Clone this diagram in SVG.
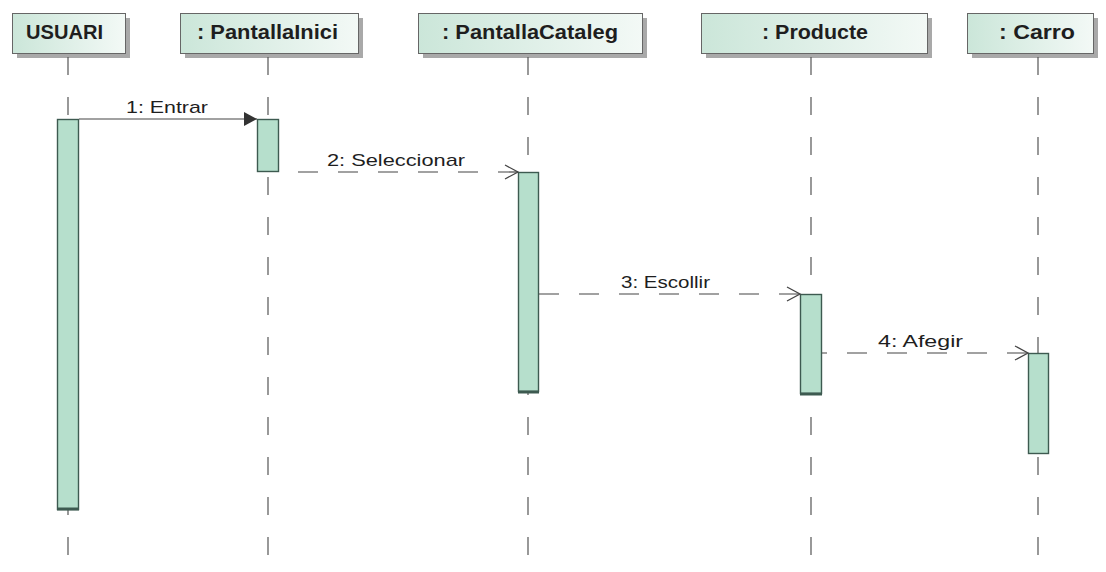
<svg xmlns="http://www.w3.org/2000/svg" width="1106" height="572" viewBox="0 0 1106 572">
  <defs>
    <linearGradient id="headFill" x1="0" y1="0" x2="1" y2="0">
      <stop offset="0" stop-color="#cbe6d9"/>
      <stop offset="1" stop-color="#f3f9f6"/>
    </linearGradient>
    <marker id="filledHead" markerWidth="14" markerHeight="14" refX="13" refY="7" orient="auto" markerUnits="userSpaceOnUse">
      <path d="M0,0 L13,7 L0,14 Z" fill="#333"/>
    </marker>
    <marker id="openHead" markerWidth="16" markerHeight="16" refX="14" refY="8" orient="auto" markerUnits="userSpaceOnUse">
      <path d="M1,1 L14,8 L1,15" fill="none" stroke="#444" stroke-width="1.3"/>
    </marker>
  </defs>
  <style>
    .shadow { fill: #a9a9a9; }
    .head { fill: url(#headFill); stroke: #666; stroke-width: 1; }
    .title { font-family: "Liberation Sans", Arial, sans-serif; font-weight: bold; font-size: 20.5px; fill: #1e1e1e; }
    .life { stroke: #555; stroke-width: 1.2; stroke-dasharray: 18 22; fill: none; }
    .act { fill: #b6dfcc; stroke: #3d5a50; stroke-width: 1.4; }
    .actBase { stroke: #3d5a50; stroke-width: 3; }
    .msg { stroke: #444; stroke-width: 1.2; fill: none; }
    .dash { stroke-dasharray: 20 20; }
    .label { font-family: "Liberation Sans", Arial, sans-serif; font-size: 17px; fill: #1e1e1e; }
  </style>

  <rect width="1106" height="572" fill="#ffffff"/>

  <!-- lifeline participants -->
  <g id="usuari">
    <rect class="shadow" x="17" y="18" width="113" height="40"/>
    <rect class="head" x="12.5" y="13.5" width="113" height="40"/>
    <text class="title" x="26" y="39" textLength="77" lengthAdjust="spacingAndGlyphs">USUARI</text>
    <line class="life" x1="68" y1="57" x2="68" y2="572"/>
    <rect class="act" x="57.5" y="119.5" width="21" height="390"/>
    <line class="actBase" x1="57" y1="509" x2="79" y2="509"/>
  </g>

  <g id="pantallaInici">
    <rect class="shadow" x="185" y="18" width="178" height="40"/>
    <rect class="head" x="180.5" y="13.5" width="178" height="40"/>
    <text class="title" x="197" y="39" textLength="141" lengthAdjust="spacingAndGlyphs">: PantallaInici</text>
    <line class="life" x1="268" y1="57" x2="268" y2="572"/>
    <rect class="act" x="257.5" y="119.5" width="21" height="52"/>
  </g>

  <g id="pantallaCataleg">
    <rect class="shadow" x="423" y="18" width="224" height="40"/>
    <rect class="head" x="418.5" y="13.5" width="224" height="40"/>
    <text class="title" x="442" y="39" textLength="176" lengthAdjust="spacingAndGlyphs">: PantallaCataleg</text>
    <line class="life" x1="528" y1="57" x2="528" y2="572"/>
    <rect class="act" x="518.5" y="172.5" width="20" height="219"/>
    <line class="actBase" x1="518" y1="392" x2="539" y2="392"/>
  </g>

  <g id="producte">
    <rect class="shadow" x="706" y="18" width="226" height="40"/>
    <rect class="head" x="701.5" y="13.5" width="226" height="40"/>
    <text class="title" x="762" y="39" textLength="106" lengthAdjust="spacingAndGlyphs">: Producte</text>
    <line class="life" x1="811" y1="57" x2="811" y2="572"/>
    <rect class="act" x="800.5" y="294.5" width="21" height="99"/>
    <line class="actBase" x1="800" y1="394" x2="822" y2="394"/>
  </g>

  <g id="carro">
    <rect class="shadow" x="972" y="18" width="126" height="40"/>
    <rect class="head" x="967.5" y="13.5" width="126" height="40"/>
    <text class="title" x="999" y="39" textLength="76" lengthAdjust="spacingAndGlyphs">: Carro</text>
    <line class="life" x1="1038" y1="57" x2="1038" y2="572"/>
    <rect class="act" x="1028.5" y="353.5" width="20" height="100"/>
  </g>

  <!-- messages -->
  <g id="messages">
    <line class="msg" x1="79" y1="119" x2="257" y2="119" marker-end="url(#filledHead)"/>
    <text class="label" x="126" y="113" textLength="82" lengthAdjust="spacingAndGlyphs">1: Entrar</text>

    <line class="msg dash" x1="298" y1="172" x2="518" y2="172" marker-end="url(#openHead)"/>
    <text class="label" x="327" y="166" textLength="138" lengthAdjust="spacingAndGlyphs">2: Seleccionar</text>

    <line class="msg dash" x1="539" y1="294" x2="800" y2="294" marker-end="url(#openHead)"/>
    <text class="label" x="621" y="288" textLength="89" lengthAdjust="spacingAndGlyphs">3: Escollir</text>

    <line class="msg dash" x1="822" y1="353" x2="1028" y2="353" stroke-dashoffset="15" marker-end="url(#openHead)"/>
    <text class="label" x="878" y="347" textLength="85" lengthAdjust="spacingAndGlyphs">4:  Afegir</text>
  </g>
</svg>
